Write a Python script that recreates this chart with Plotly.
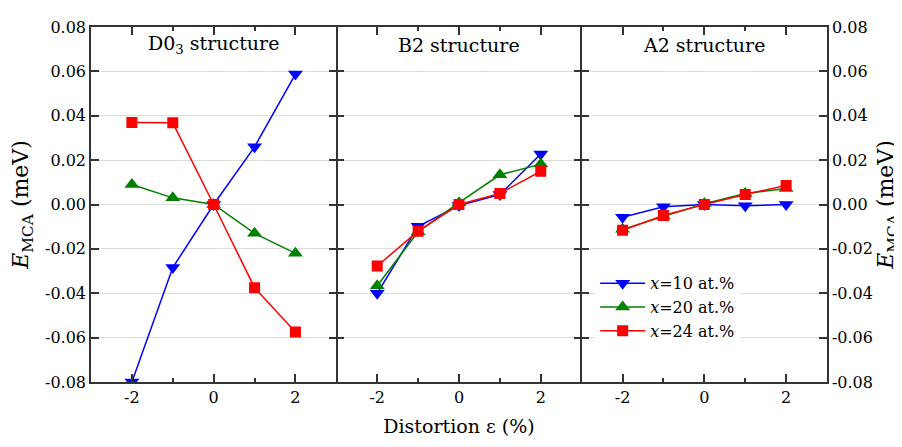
import plotly.graph_objects as go

strain = [-2, -1, 0, 1, 2]
series_names = ["<i>x</i>=10 at.%", "<i>x</i>=20 at.%", "<i>x</i>=24 at.%"]
panel_titles = ["D0<sub>3</sub> structure", "B2 structure", "A2 structure"]

# D03 structure
d03_x10 = [-0.080, -0.0284, 0.0, 0.026, 0.0588]
d03_x20 = [0.0090, 0.0030, 0.0, -0.0130, -0.0220]
d03_x24 = [0.0370, 0.0368, 0.0, -0.0375, -0.0575]
# B2 structure
b2_x10 = [-0.0400, -0.0098, -0.0005, 0.0045, 0.0228]
b2_x20 = [-0.0366, -0.0123, 0.0008, 0.0134, 0.0182]
b2_x24 = [-0.0277, -0.0120, 0.0, 0.0050, 0.0150]
# A2 structure
a2_x10 = [-0.0057, -0.0010, 0.0, -0.0006, 0.0]
a2_x20 = [-0.0112, -0.0053, 0.0004, 0.0050, 0.0072]
a2_x24 = [-0.0116, -0.0050, 0.0, 0.0045, 0.0086]

yticks = [-0.08, -0.06, -0.04, -0.02, 0.0, 0.02, 0.04, 0.06, 0.08]
ytick_text = ["-0.08", "-0.06", "-0.04", "-0.02", "0.00", "0.02", "0.04", "0.06", "0.08"]

colors = ["#0000FF", "#008000", "#FF0000"]
symbols = ["triangle-down", "triangle-up", "square"]
msizes = [13, 13, 11]

panels = [
    [d03_x10, d03_x20, d03_x24],
    [b2_x10, b2_x20, b2_x24],
    [a2_x10, a2_x20, a2_x24],
]

FONT = "DejaVu Serif"
AX = "#333333"

fig = go.Figure()
for p, data in enumerate(panels):
    xa = "x" if p == 0 else f"x{p+1}"
    ya = "y" if p == 0 else f"y{p+1}"
    for s, vals in enumerate(data):
        fig.add_trace(go.Scatter(
            x=strain, y=vals, mode="lines+markers",
            name=series_names[s],
            showlegend=(p == 2),
            line=dict(color=colors[s], width=1.5),
            marker=dict(symbol=symbols[s], size=msizes[s], color=colors[s]),
            xaxis=xa, yaxis=ya,
        ))

domains = [[0, 1 / 3], [1 / 3, 2 / 3], [2 / 3, 1]]

layout = dict(
    width=902, height=447,
    paper_bgcolor="white", plot_bgcolor="white",
    margin=dict(l=83, r=83, t=10, b=73),
    font=dict(family=FONT, size=16, color="black"),
    showlegend=True,
    legend=dict(
        x=0.685, y=0.326, xanchor="left", yanchor="top",
        xref="paper", yref="paper",
        bgcolor="white", borderwidth=0,
        font=dict(family=FONT, size=16),
        itemwidth=45, tracegroupgap=0,
    ),
)

for p in range(3):
    xk = "xaxis" if p == 0 else f"xaxis{p+1}"
    yk = "yaxis" if p == 0 else f"yaxis{p+1}"
    layout[xk] = dict(
        domain=domains[p], range=[-3, 3],
        tickvals=[-2, 0, 2], ticktext=["-2", "0", "2"],
        ticks="inside", ticklen=8, tickwidth=1.5, tickcolor=AX,
        minor=dict(tickvals=[-1, 1], ticks="inside", ticklen=4, tickwidth=1.5, tickcolor=AX),
        showline=True, linecolor=AX, linewidth=1.5, mirror="allticks",
        showgrid=False, zeroline=False,
        anchor="y" if p == 0 else f"y{p+1}",
        tickfont=dict(family=FONT, size=16),
    )
    ydict = dict(
        domain=[0, 1], range=[-0.08, 0.08],
        tickvals=yticks, ticktext=ytick_text,
        ticks="inside", ticklen=8, tickwidth=1.5, tickcolor=AX,
        showline=True, linecolor=AX, linewidth=1.5, mirror="allticks",
        showgrid=True, gridcolor="#DDDDDD", gridwidth=1,
        zeroline=False,
        anchor="x" if p == 0 else f"x{p+1}",
        tickfont=dict(family=FONT, size=16),
    )
    if p == 0:
        ydict["title"] = dict(text="<i>E</i><sub>MCA</sub> (meV)", font=dict(family=FONT, size=22), standoff=10)
    elif p == 1:
        ydict["showticklabels"] = False
        ydict["linecolor"] = "rgba(0,0,0,0)"
    else:
        ydict["side"] = "right"
        ydict["title"] = dict(text="<i>E</i><sub>MCA</sub> (meV)", font=dict(family=FONT, size=22), standoff=6)
    layout[yk] = ydict

layout["xaxis2"]["title"] = dict(text="Distortion ε (%)", font=dict(family=FONT, size=19), standoff=14)

fig.update_layout(**layout)

for p in range(3):
    fig.add_annotation(
        text=panel_titles[p], x=0, y=0.072,
        xref="x" if p == 0 else f"x{p+1}", yref="y",
        showarrow=False, font=dict(family=FONT, size=19), yanchor="middle",
    )

fig.write_html("out.html")
